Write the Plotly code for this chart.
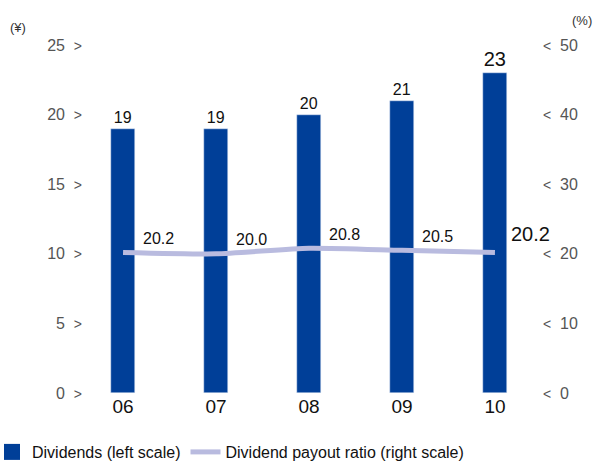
import plotly.graph_objects as go

years = ["06", "07", "08", "09", "10"]
dividends = [19, 19, 20, 21, 23]
payout_ratio = [20.2, 20.0, 20.8, 20.5, 20.2]
left_ticks = [0, 5, 10, 15, 20, 25]
right_ticks = [0, 10, 20, 30, 40, 50]

BAR_COLOR = "#003f98"
LINE_COLOR = "#b9bbdf"
FONT = "Liberation Sans, Arial, sans-serif"

W, H = 597, 461
ML, MR, MT, MB = 84, 63, 45, 68
PW, PH = W - ML - MR, H - MT - MB

fig = go.Figure()

# Dividends per share (left axis)
fig.add_trace(go.Bar(
    x=years, y=dividends, name="Dividends (left scale)",
    marker_color=BAR_COLOR, width=0.25,
    text=[str(v) for v in dividends], textposition="outside",
    textfont=dict(family=FONT, color="#111111", size=[16, 16, 16, 16, 20]),
    cliponaxis=False, yaxis="y", showlegend=False,
))

# Payout ratio (right axis)
fig.add_trace(go.Scatter(
    x=years, y=payout_ratio, name="Dividend payout ratio (right scale)",
    mode="lines", line=dict(color=LINE_COLOR, width=5, shape="spline", smoothing=0.6),
    yaxis="y2", showlegend=False,
))

# Legend entries
fig.add_trace(go.Scatter(
    x=[None], y=[None], mode="markers", name="Dividends (left scale)",
    marker=dict(symbol="square", size=16, color=BAR_COLOR),
))
fig.add_trace(go.Scatter(
    x=[None], y=[None], mode="lines", name="Dividend payout ratio (right scale)",
    line=dict(color=LINE_COLOR, width=5),
))

annotations = []
# Value labels for the payout ratio line (category index on the x axis)
for i, v in enumerate(payout_ratio):
    last = i == len(payout_ratio) - 1
    annotations.append(dict(
        x=i, y=v, xref="x", yref="y2", text=f"{v:.1f}", showarrow=False,
        xanchor="left", yanchor="middle",
        xshift=14 if last else 18, yshift=18 if last else 14,
        font=dict(family=FONT, size=20 if last else 16, color="#111111"),
    ))

# Unit captions above each axis
annotations.append(dict(x=0, y=1, xref="paper", yref="paper", text="(¥)",
                        showarrow=False, xanchor="center", yanchor="middle",
                        xshift=18 - ML, yshift=MT - 27,
                        font=dict(family=FONT, size=13, color="#333333")))
annotations.append(dict(x=1, y=1, xref="paper", yref="paper", text="(%)",
                        showarrow=False, xanchor="center", yanchor="middle",
                        xshift=582 - (W - MR), yshift=MT - 20,
                        font=dict(family=FONT, size=13, color="#333333")))

fig.update_layout(
    width=W, height=H,
    margin=dict(l=ML, r=MR, t=MT, b=MB, autoexpand=False),
    plot_bgcolor="white", paper_bgcolor="white",
    font=dict(family=FONT),
    bargap=0,
    annotations=annotations,
    xaxis=dict(
        type="category", range=[-0.42, 4.42], showgrid=False, showline=False,
        zeroline=False, ticks="",
        tickfont=dict(family=FONT, size=19, color="#111111"),
    ),
    yaxis=dict(
        range=[0, 25], tickvals=left_ticks,
        ticktext=[f"{t}  <span style='font-size:14px'>&gt;</span>" for t in left_ticks],
        showgrid=False, zeroline=False, showline=False, ticks="",
        tickfont=dict(family=FONT, size=16, color="#555555"),
        ticklabelstandoff=1,
    ),
    yaxis2=dict(
        range=[0, 50], tickvals=right_ticks,
        ticktext=[f"<span style='font-size:14px'>&lt;</span>  {t}" for t in right_ticks],
        overlaying="y", side="right",
        showgrid=False, zeroline=False, showline=False, ticks="",
        tickfont=dict(family=FONT, size=16, color="#555555"),
        ticklabelstandoff=8,
    ),
    legend=dict(
        orientation="h",
        x=(-8 - ML) / PW, y=-(452 - (H - MB)) / PH,
        xanchor="left", yanchor="middle",
        font=dict(family=FONT, size=16, color="#111111"),
        itemwidth=30, tracegroupgap=0, bgcolor="rgba(0,0,0,0)",
    ),
    showlegend=True,
)

fig.write_html("out.html")
